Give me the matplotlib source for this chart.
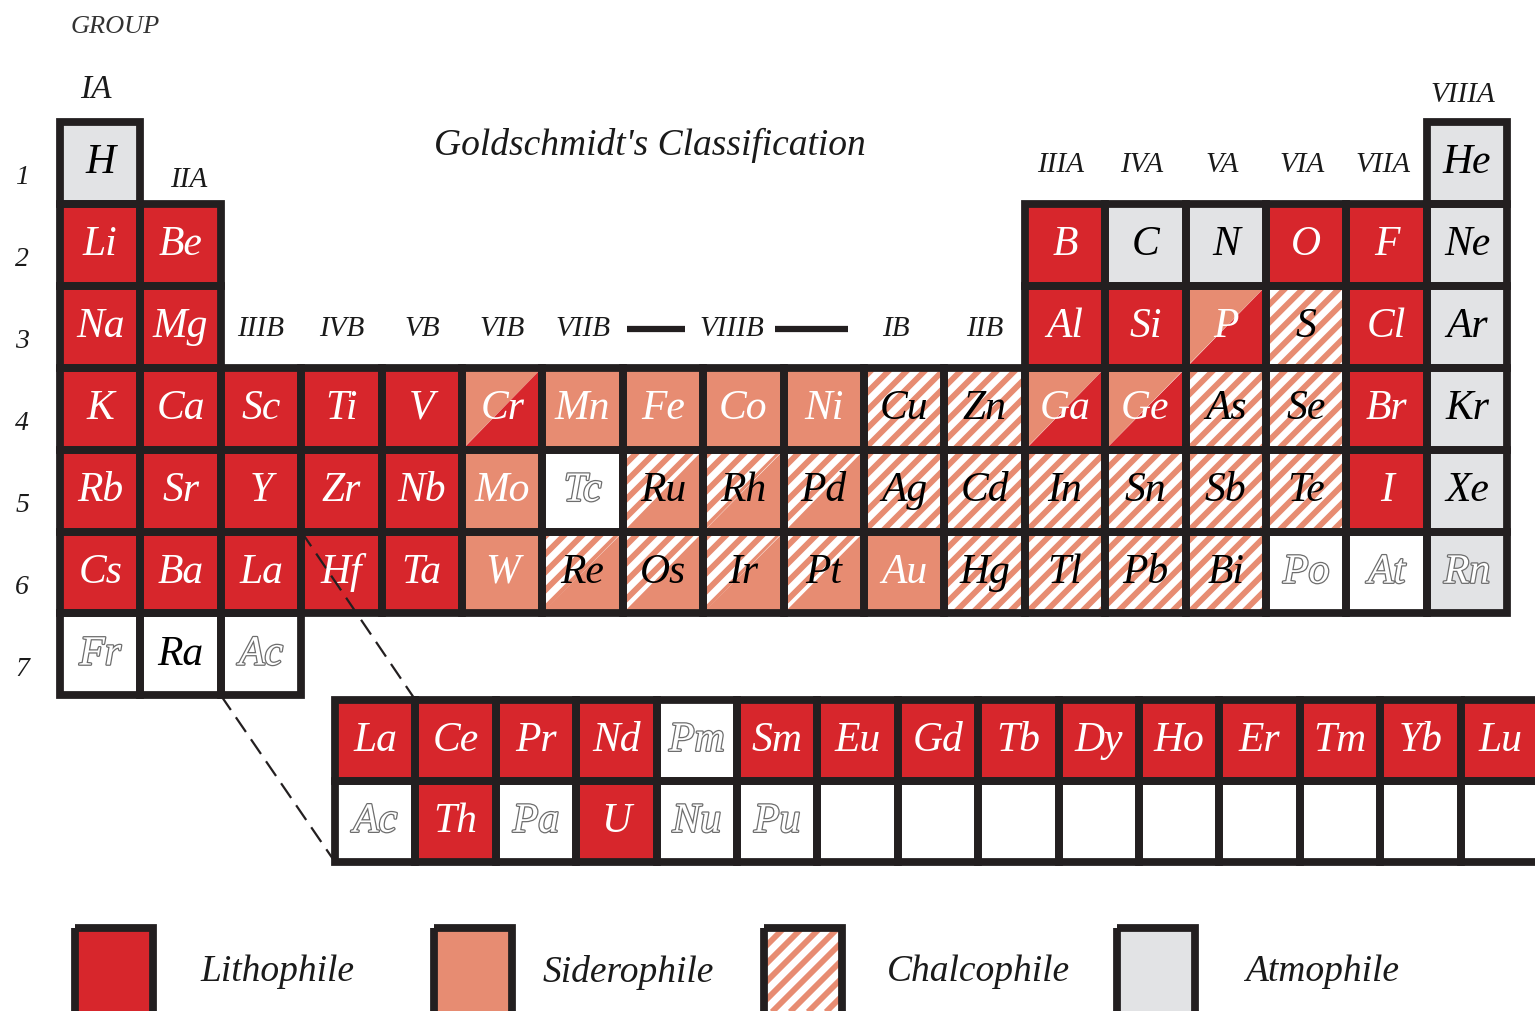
import matplotlib

matplotlib.use("Agg")
import matplotlib.pyplot as plt
import matplotlib.patheffects as pe
import numpy as np
from matplotlib.patches import Polygon, Rectangle

# ---- data -----------------------------------------------------------------
# L lithophile, S siderophile, C chalcophile, A atmophile, W unclassified,
# s siderophile/lithophile split, c chalcophile/siderophile split
MAIN_SYMBOLS = [
    "H  .  .  .  .  .  .  .  .  .  .  .  .  .  .  .  .  He",
    "Li Be .  .  .  .  .  .  .  .  .  .  B  C  N  O  F  Ne",
    "Na Mg .  .  .  .  .  .  .  .  .  .  Al Si P  S  Cl Ar",
    "K  Ca Sc Ti V  Cr Mn Fe Co Ni Cu Zn Ga Ge As Se Br Kr",
    "Rb Sr Y  Zr Nb Mo Tc Ru Rh Pd Ag Cd In Sn Sb Te I  Xe",
    "Cs Ba La Hf Ta W  Re Os Ir Pt Au Hg Tl Pb Bi Po At Rn",
    "Fr Ra Ac",
]
MAIN_CLASSES = [
    "A . . . . . . . . . . . . . . . . A",
    "L L . . . . . . . . . . L A A L L A",
    "L L . . . . . . . . . . L L s C L A",
    "L L L L L s S S S S C C s s C C L A",
    "L L L L L S W c c c C C C C C C L A",
    "L L L L L S c c c c S C C C C W W A",
    "W W W",
]
LAN_SYMBOLS = "La Ce Pr Nd Pm Sm Eu Gd Tb Dy Ho Er Tm Yb Lu"
LAN_CLASSES = "L  L  L  L  W  L  L  L  L  L  L  L  L  L  L"
ACT_SYMBOLS = "Ac Th Pa U  Nu Pu .  .  .  .  .  .  .  .  ."
ACT_CLASSES = "W  L  W  L  W  W  W  W  W  W  W  W  W  W  W"
RADIOACTIVE = {"Tc", "Po", "At", "Rn", "Fr", "Ac", "Pm", "Pa", "Nu", "Pu"}

PERIOD_LABELS = ["1", "2", "3", "4", "5", "6", "7"]
B_GROUPS = ["IIIB", "IVB", "VB", "VIB", "VIIB", "VIIIB", "IB", "IIB"]
B_GROUP_COLS = [3, 4, 5, 6, 7, 9, 11, 12]
A_GROUPS = ["IIIA", "IVA", "VA", "VIA", "VIIA"]
A_GROUP_COLS = [13, 14, 15, 16, 17]
LEGEND_NAMES = ["Lithophile", "Siderophile", "Chalcophile", "Atmophile"]
LEGEND_CLASSES = ["L", "S", "C", "A"]

# ---- style ----------------------------------------------------------------
RED = "#d7262c"
SALMON = "#e78c72"
GREY = "#e2e3e5"
EDGE = "#231f20"
FONT = "Liberation Serif"
STRIPE_STEP = 18      # px between chalcophile stripes (horizontal)

X0, Y0, CW, CH = 60, 122, 80.4, 81.9      # main table grid
LX0, LY0, LCH = 335, 700, 81.0            # f-block grid

fig = plt.figure(figsize=(15.35, 10.11), dpi=100)
ax = fig.add_axes([0, 0, 1, 1])
ax.set_xlim(0, 1535)
ax.set_ylim(1011, 0)
ax.axis("off")


def hatched(poly_xy):
    patch = Polygon(poly_xy, closed=True, facecolor="white", linewidth=0, zorder=1)
    ax.add_patch(patch)
    xs = [p[0] for p in poly_xy]
    ys = [p[1] for p in poly_xy]
    y0, y1 = min(ys), max(ys)
    h = y1 - y0
    start = np.floor((min(xs) - h) / STRIPE_STEP) * STRIPE_STEP
    for a in np.arange(start, max(xs) + STRIPE_STEP, STRIPE_STEP):
        ln, = ax.plot([a, a + h], [y1, y0], color=SALMON, lw=4.2,
                      solid_capstyle="butt", zorder=1.5)
        ln.set_clip_path(patch)


def cell(x, y, w, h, cls, sym, size=30):
    ul = [(x, y), (x + w, y), (x, y + h)]
    lr = [(x + w, y), (x + w, y + h), (x, y + h)]
    if cls in ("L", "S", "A", "W"):
        face = {"L": RED, "S": SALMON, "A": GREY, "W": "white"}[cls]
        ax.add_patch(Rectangle((x, y), w, h, facecolor=face, linewidth=0, zorder=1))
    elif cls == "C":
        hatched([(x, y), (x + w, y), (x + w, y + h), (x, y + h)])
    elif cls == "s":
        ax.add_patch(Polygon(ul, facecolor=SALMON, linewidth=0, zorder=1))
        ax.add_patch(Polygon(lr, facecolor=RED, linewidth=0, zorder=1))
    elif cls == "c":
        hatched(ul)
        ax.add_patch(Polygon(lr, facecolor=SALMON, linewidth=0, zorder=1))
    ax.add_patch(Rectangle((x, y), w, h, fill=False, edgecolor=EDGE,
                           linewidth=5.6, zorder=3))
    if sym == ".":
        return
    kw = dict(ha="center", va="center", fontsize=size, family=FONT,
              style="italic", zorder=4)
    if sym in RADIOACTIVE:
        ax.text(x + w / 2, y + h / 2, sym, color="white",
                path_effects=[pe.withStroke(linewidth=1.8, foreground="#6d6d6d")], **kw)
    else:
        color = "white" if cls in ("L", "S", "s") else "black"
        ax.text(x + w / 2, y + h / 2, sym, color=color, **kw)


# main table
for r, (srow, crow) in enumerate(zip(MAIN_SYMBOLS, MAIN_CLASSES)):
    for c, (sym, cls) in enumerate(zip(srow.split(), crow.split())):
        if cls == ".":
            continue
        cell(X0 + c * CW, Y0 + r * CH, CW, CH, cls, sym)

# lanthanides / actinides
for r, (srow, crow) in enumerate([(LAN_SYMBOLS, LAN_CLASSES), (ACT_SYMBOLS, ACT_CLASSES)]):
    for c, (sym, cls) in enumerate(zip(srow.split(), crow.split())):
        cell(LX0 + c * CW, LY0 + r * LCH, CW, LCH, cls, sym)

# dashed connectors
ax.plot([X0 + 3 * CW, LX0 + CW], [Y0 + 5 * CH, LY0], color=EDGE, lw=1.6,
        ls=(0, (8, 4)), zorder=2)
ax.plot([X0 + 2 * CW, LX0], [Y0 + 7 * CH, LY0 + 2 * LCH], color=EDGE, lw=1.6,
        ls=(0, (8, 4)), zorder=2)

# labels
lab = dict(family=FONT, style="italic", color="#1a1a1a", ha="center", va="center")
ax.text(115, 27, "GROUP", fontsize=19, **{**lab, "color": "#333333"})
ax.text(X0 + 0.45 * CW, 90, "IA", fontsize=24, **lab)
ax.text(X0 + 1.6 * CW, 180, "IIA", fontsize=21, **lab)
ax.text(X0 + 17.45 * CW, 95, "VIIIA", fontsize=21, **lab)
for name, col in zip(A_GROUPS, A_GROUP_COLS):
    ax.text(X0 + (col - 0.5) * CW - 4, 165, name, fontsize=21, **lab)
for name, col in zip(B_GROUPS, B_GROUP_COLS):
    dx = -12 if name == "VIIIB" else (-8 if name == "IB" else 0)
    ax.text(X0 + (col - 0.5) * CW + dx, Y0 + 2.5 * CH + 2, name, fontsize=21, **lab)
ax.plot([627, 685], [Y0 + 2.5 * CH + 2] * 2, color=EDGE, lw=4.5, solid_capstyle="butt")
ax.plot([775, 848], [Y0 + 2.5 * CH + 2] * 2, color=EDGE, lw=4.5, solid_capstyle="butt")
for i, p in enumerate(PERIOD_LABELS):
    ax.text(22, Y0 + (i + 0.5) * CH + 15, p, fontsize=20, **lab)
ax.text(650, 145, "Goldschmidt's Classification", fontsize=27, **lab)

# legend
LEG_X = [73, 432, 762, 1115]
LEG_TX = [200, 543, 887, 1245]
for x, tx, name, cls in zip(LEG_X, LEG_TX, LEGEND_NAMES, LEGEND_CLASSES):
    cell(x + 2, 928, 78, 100, cls, ".")
    ax.text(tx, 972, name, fontsize=27, family=FONT, style="italic",
            color="#1a1a1a", ha="left", va="center")

fig.savefig("out.png", dpi=100)
